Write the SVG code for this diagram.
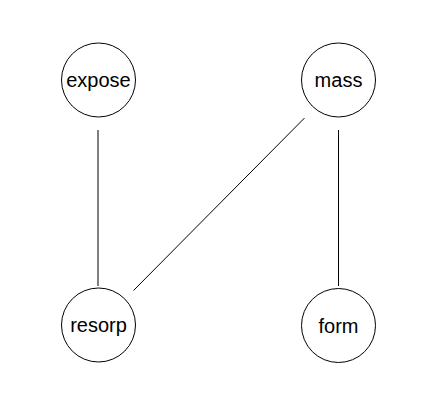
<svg xmlns="http://www.w3.org/2000/svg" width="439" height="408" viewBox="0 0 439 408">
<style>
.n circle{fill:#fff;stroke:#000;stroke-width:1}
.n text{font-family:"Liberation Sans",Arial,sans-serif;font-size:20px;text-anchor:middle;fill:#000}
#edges line{stroke:#000;stroke-width:1}
</style>
<rect width="439" height="408" fill="#fff"/>
<g id="edges">
<line x1="98" y1="130" x2="98" y2="286"/>
<line x1="338.5" y1="130" x2="338.5" y2="286"/>
<line x1="304.5" y1="118" x2="133.5" y2="290.5"/>
</g>
<g id="expose" class="n"><circle cx="98.5" cy="80" r="37"/><text x="98.5" y="87">expose</text></g>
<g id="mass" class="n"><circle cx="338.5" cy="80" r="37"/><text x="338.5" y="87">mass</text></g>
<g id="resorp" class="n"><circle cx="98.5" cy="325" r="37"/><text x="98.5" y="332">resorp</text></g>
<g id="form" class="n"><circle cx="338.5" cy="325.5" r="37"/><text x="338.5" y="333">form</text></g>
</svg>
